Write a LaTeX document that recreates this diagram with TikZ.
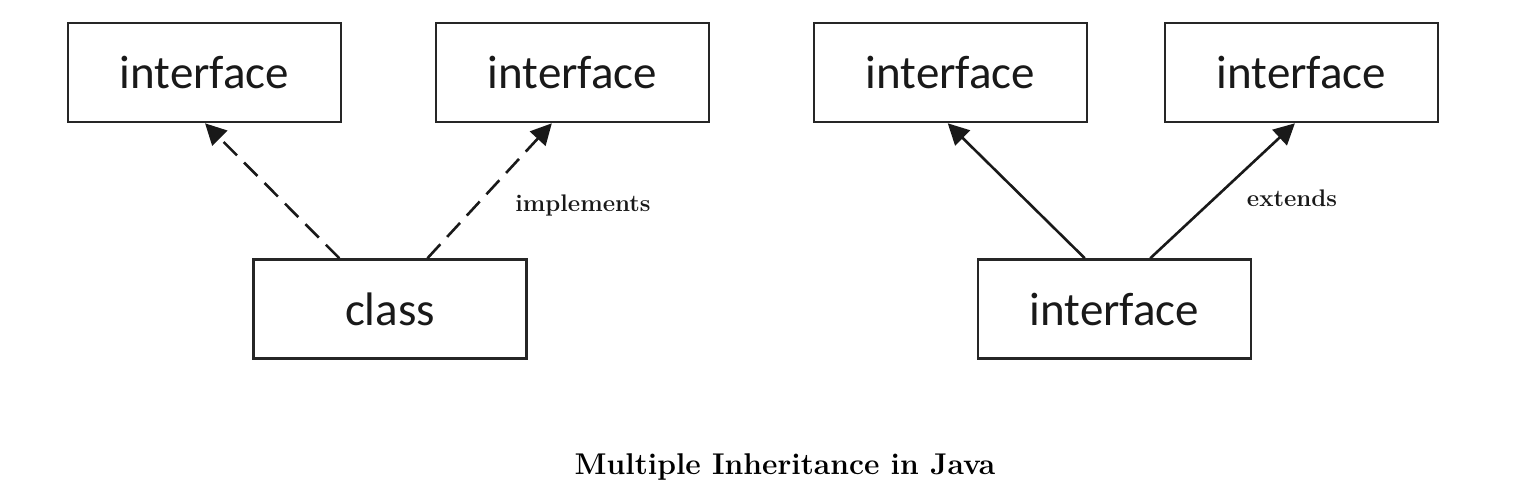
\documentclass[tikz,border=0pt]{standalone}
\usepackage{fontspec}
\newfontfamily\boxfont{Carlito}
\usetikzlibrary{arrows.meta,calc}
\begin{document}
\begin{tikzpicture}[x=1pt,y=-1pt,
  box/.style={draw=black!85,line width=2.6pt,minimum width=273pt,minimum height=99pt,inner sep=0pt,
    font=\boxfont\fontsize{47}{56}\selectfont,text=black!90},
  conn/.style={line width=2.6pt,draw=black!90,-{Triangle[length=21pt,width=21pt]}},
  dashconn/.style={conn,dash pattern=on 19pt off 10pt},
  lbl/.style={font=\bfseries\fontsize{24}{28}\selectfont,text=black!90},
  ttl/.style={font=\bfseries\fontsize{30}{36}\selectfont,text=black}]
\useasboundingbox[fill=white] (0,0) rectangle (1530,496);
\node[box] (i1) at (204.5,72.5) {interface};
\node[box] (i2) at (572.5,72.5) {interface};
\node[box] (cls) at (390,309) {class};
\node[box] (i3) at (950.5,72.5) {interface};
\node[box] (i4) at (1301.5,72.5) {interface};
\node[box] (bi) at (1114.5,309) {interface};
\draw[dashconn] ($(cls.north west)!0.316!(cls.north east)$) -- ($(i1.south west)!0.502!(i1.south east)$);
\draw[dashconn] ($(cls.north west)!0.636!(cls.north east)$) -- ($(i2.south west)!0.425!(i2.south east)$);
\draw[conn] ($(bi.north west)!0.392!(bi.north east)$) -- ($(i3.south west)!0.49!(i3.south east)$);
\draw[conn] ($(bi.north west)!0.63!(bi.north east)$) -- ($(i4.south west)!0.476!(i4.south east)$);
\node[lbl] (impl) at (583,205) {implements};
\node[lbl] (ext) at (1292,198) {extends};
\node[ttl] (title) at (785,467) {Multiple Inheritance in Java};
\end{tikzpicture}
\end{document}
